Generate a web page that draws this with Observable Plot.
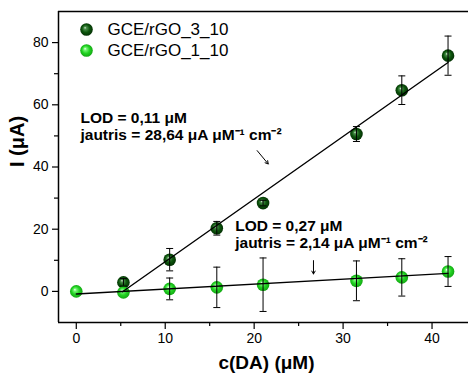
<!DOCTYPE html>
<html>
<head>
<meta charset="utf-8">
<script src="https://cdn.jsdelivr.net/npm/d3@7"></script>
<script src="https://cdn.jsdelivr.net/npm/@observablehq/plot@0.6"></script>
<style>
  html, body { margin: 0; padding: 0; background: white; }
</style>
</head>
<body>
<div id="chart"></div>
<script>
// Series names (legend)
const seriesNames = ["GCE/rGO_3_10", "GCE/rGO_1_10"];

// GCE/rGO_3_10: dopamine concentration (µM), current (µA), error (µA)
const conc3 = [5.3, 10.5, 15.8, 21.0, 31.5, 36.6, 41.8];
const curr3 = [2.9, 10.2, 20.3, 28.4, 50.6, 64.7, 75.8];
const err3  = [1.2, 3.6, 2.2, 0.9, 2.4, 4.6, 6.3];

// GCE/rGO_1_10
const conc1 = [0, 5.3, 10.5, 15.8, 21.0, 31.5, 36.6, 41.8];
const curr1 = [0, -0.3, 0.8, 1.3, 2.15, 3.4, 4.5, 6.4];
const err1  = [0, 0.4, 3.5, 6.5, 8.6, 6.4, 6.0, 4.8];

// Linear fits (end points)
const fit3X = [5.2, 41.8];
const fit3Y = [-0.1, 73.6];
const fit1X = [0, 41.8];
const fit1Y = [-0.85, 5.8];

// Axis ticks
const xMajor = [0, 10, 20, 30, 40];
const xMinor = [5, 15, 25, 35];
const yMajor = [0, 20, 40, 60, 80];
const yMinor = [10, 30, 50, 70];

// Annotation text
const ann3 = ["LOD = 0,11 μM", "jautris = 28,64 μA μM⁻¹ cm⁻²"];
const ann1 = ["LOD = 0,27 μM", "jautris = 2,14 μA μM⁻¹ cm⁻²"];

const rows3 = conc3.map((c, k) => ({c, i: curr3[k], e: err3[k]}));
const rows1 = conc1.map((c, k) => ({c, i: curr1[k], e: err1[k]}));
const bars1 = rows1.filter(d => d.e > 0.5);
const fit3 = fit3X.map((x, k) => ({x, y: fit3Y[k]}));
const fit1 = fit1X.map((x, k) => ({x, y: fit1Y[k]}));

// Short horizontal stroke used as the error bar cap
const capSymbol = {draw(ctx) { ctx.moveTo(-3.5, 0); ctx.lineTo(3.5, 0); }};

const dark = "url(#ballDark)";
const light = "url(#ballLight)";
const font = "'Liberation Sans', Arial, sans-serif";
const annStyle = {textAnchor: "start", lineAnchor: "bottom", fontSize: 15.5, fontWeight: "bold"};

const chart = Plot.plot({
  width: 468,
  height: 373,
  marginLeft: 58,
  marginRight: 0,
  marginTop: 11,
  marginBottom: 51,
  style: {fontFamily: font, fontSize: "14px", background: "white", color: "black"},
  x: {domain: [-2, 44.1], label: null},
  y: {domain: [-10, 90], label: null},
  marks: [
    // frame lines
    Plot.ruleY([-10], {strokeWidth: 1.5}),
    Plot.ruleY([90], {strokeWidth: 1.5}),
    Plot.ruleX([-2], {strokeWidth: 1.5}),
    // axes
    Plot.axisX({ticks: xMajor, tickSize: 7, tickPadding: 4, fontSize: 14, strokeWidth: 1.2, label: null}),
    Plot.axisX({ticks: xMinor, tickSize: 4, tickFormat: () => "", strokeWidth: 1.2, label: null}),
    Plot.axisY({ticks: yMajor, tickSize: 6, tickPadding: 4, fontSize: 14, strokeWidth: 1.2, label: null}),
    Plot.axisY({ticks: yMinor, tickSize: 4, tickFormat: () => "", strokeWidth: 1.2, label: null}),
    // axis titles
    Plot.text(["c(DA) (μM)"], {frameAnchor: "bottom", dx: 3, dy: 46, fontSize: 19, fontWeight: "bold", lineAnchor: "bottom"}),
    Plot.text(["I (μA)"], {frameAnchor: "left", dx: -41, rotate: -90, fontSize: 20, fontWeight: "bold"}),
    // points
    Plot.dot(rows3, {x: "c", y: "i", r: 6.3, fill: dark}),
    Plot.dot(rows1, {x: "c", y: "i", r: 6.3, fill: light}),
    // fitted lines
    Plot.line(fit3, {x: "x", y: "y", stroke: "black", strokeWidth: 1.4}),
    Plot.line(fit1, {x: "x", y: "y", stroke: "black", strokeWidth: 1.4}),
    // error bars
    Plot.ruleX(rows3, {x: "c", y1: d => d.i - d.e, y2: d => d.i + d.e, strokeWidth: 1}),
    Plot.dot(rows3, {x: "c", y: d => d.i - d.e, symbol: capSymbol, stroke: "black", strokeWidth: 1}),
    Plot.dot(rows3, {x: "c", y: d => d.i + d.e, symbol: capSymbol, stroke: "black", strokeWidth: 1}),
    Plot.ruleX(bars1, {x: "c", y1: d => d.i - d.e, y2: d => d.i + d.e, strokeWidth: 1}),
    Plot.dot(bars1, {x: "c", y: d => d.i - d.e, symbol: capSymbol, stroke: "black", strokeWidth: 1}),
    Plot.dot(bars1, {x: "c", y: d => d.i + d.e, symbol: capSymbol, stroke: "black", strokeWidth: 1}),
    // annotations
    Plot.text([ann3[0]], {x: 0.47, y: 54.1, ...annStyle}),
    Plot.text([ann3[1]], {x: 0.47, y: 48.8, ...annStyle}),
    Plot.text([ann1[0]], {x: 17.87, y: 19.5, ...annStyle}),
    Plot.text([ann1[1]], {x: 17.87, y: 13.9, ...annStyle}),
    Plot.arrow([0], {x1: 20.34, y1: 45.26, x2: 21.58, y2: 40.98, headLength: 5, strokeWidth: 1}),
    Plot.arrow([0], {x1: 26.67, y1: 9.9, x2: 26.67, y2: 5.6, headLength: 5, strokeWidth: 1}),
    // legend
    Plot.dot([seriesNames[0]], {frameAnchor: "top-left", dx: 28, dy: 18, r: 6.3, fill: dark}),
    Plot.dot([seriesNames[1]], {frameAnchor: "top-left", dx: 28, dy: 39, r: 6.3, fill: light}),
    Plot.text([seriesNames[0]], {text: d => d, frameAnchor: "top-left", dx: 49, dy: 18, textAnchor: "start", lineAnchor: "middle", fontSize: 17}),
    Plot.text([seriesNames[1]], {text: d => d, frameAnchor: "top-left", dx: 49, dy: 39, textAnchor: "start", lineAnchor: "middle", fontSize: 17})
  ]
});

// Radial gradients giving the markers their shaded ball look
const defs = d3.select(chart).insert("defs", ":first-child");
function ball(id, stops) {
  const g = defs.append("radialGradient").attr("id", id)
    .attr("cx", "50%").attr("cy", "50%").attr("r", "55%")
    .attr("fx", "38%").attr("fy", "35%");
  stops.forEach(([o, c]) => g.append("stop").attr("offset", o).attr("stop-color", c));
}
ball("ballDark", [[0, "#d8eed8"], [0.18, "#4c904c"], [0.55, "#0d560d"], [1, "#022a02"]]);
ball("ballLight", [[0, "#ffffff"], [0.18, "#7af77a"], [0.55, "#22d422"], [1, "#109e10"]]);

document.getElementById("chart").appendChild(chart);
</script>
</body>
</html>
